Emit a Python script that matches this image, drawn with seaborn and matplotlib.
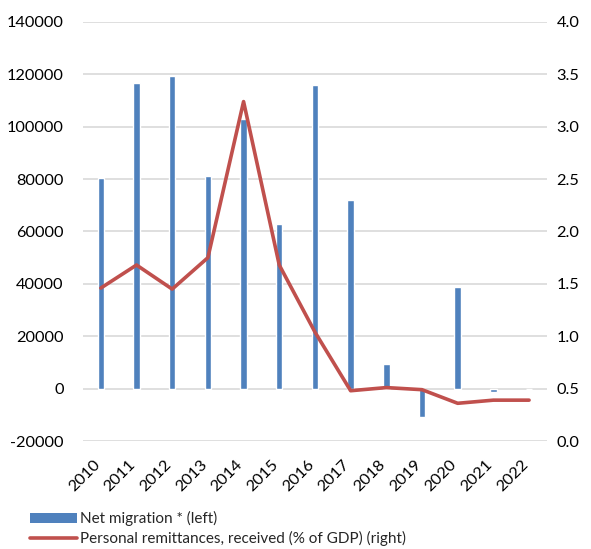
import numpy as np
import pandas as pd
import matplotlib
matplotlib.use("Agg")
import matplotlib.pyplot as plt
import matplotlib.transforms as mtransforms
from matplotlib.patches import Patch
from matplotlib.lines import Line2D
import seaborn as sns

years = ["2010", "2011", "2012", "2013", "2014", "2015", "2016",
         "2017", "2018", "2019", "2020", "2021", "2022"]
net_migration = [80300, 116800, 119500, 81000, 103000, 62900, 115800,
                 72000, 9300, -10800, 38900, -1300, 0]
remittances = [1.46, 1.68, 1.45, 1.75, 3.24, 1.68, 1.04,
               0.48, 0.51, 0.49, 0.36, 0.39, 0.39]

blue = "#4F81BD"
red = "#C0504D"

sns.set_theme(style="white")
plt.rcParams["font.family"] = ["Lato", "DejaVu Sans"]

df = pd.DataFrame({"year": years, "net": net_migration, "remit": remittances})

fig = plt.figure(figsize=(5.91, 5.49), dpi=100)
ax = fig.add_axes([0.1404, 0.1967, 0.785, 0.7633])

sns.barplot(data=df, x="year", y="net", color=blue, width=0.18,
            saturation=1, ax=ax, zorder=2)
ax.set_ylim(-20000, 140000)
ax.set_yticks(np.arange(-20000, 140001, 20000))
ax.set_yticklabels([str(v) for v in range(-20000, 140001, 20000)])
ax.yaxis.grid(True, color="#D9D9D9", linewidth=1.2, zorder=0)
ax.set_axisbelow(True)
ax.set_xlim(-0.5, len(years) - 0.5)
ax.set_xlabel("")
ax.set_ylabel("")

ax2 = ax.twinx()
sns.lineplot(x=np.arange(len(years)), y=df["remit"], color=red,
             linewidth=2.6, ax=ax2, zorder=3)
ax2.set_ylim(0, 4.0)
ax2.set_yticks(np.arange(0, 4.01, 0.5))
ax2.set_yticklabels([f"{v:.1f}" for v in np.arange(0, 4.01, 0.5)])
ax2.set_ylabel("")
ax2.set_xlim(-0.5, len(years) - 0.5)

for a in (ax, ax2):
    for s in a.spines.values():
        s.set_visible(False)
    a.tick_params(axis="both", length=0, labelsize=11.8, colors="#000000")

ax.tick_params(axis="y", pad=14)
ax2.tick_params(axis="y", pad=7)
ax.set_xticks(range(len(years)))
ax.set_xticklabels(years, rotation=45, ha="right", rotation_mode="anchor")
ax.tick_params(axis="x", pad=12)
shift = mtransforms.ScaledTranslation(-8 / 100, 0, fig.dpi_scale_trans)
for lbl in ax.get_xticklabels():
    lbl.set_transform(lbl.get_transform() + shift)

handles = [Patch(facecolor=blue, edgecolor="none"),
           Line2D([0], [0], color=red, linewidth=2.6)]
labels = ["Net migration * (left)",
          "Personal remittances, received (% of GDP) (right)"]
fig.legend(handles, labels, loc="lower left", bbox_to_anchor=(0.035, -0.011),
           frameon=False, fontsize=11, handlelength=3.1, handleheight=0.7,
           handletextpad=0.2, labelspacing=0.3, borderaxespad=0.2)

fig.savefig("out.png", dpi=100)
